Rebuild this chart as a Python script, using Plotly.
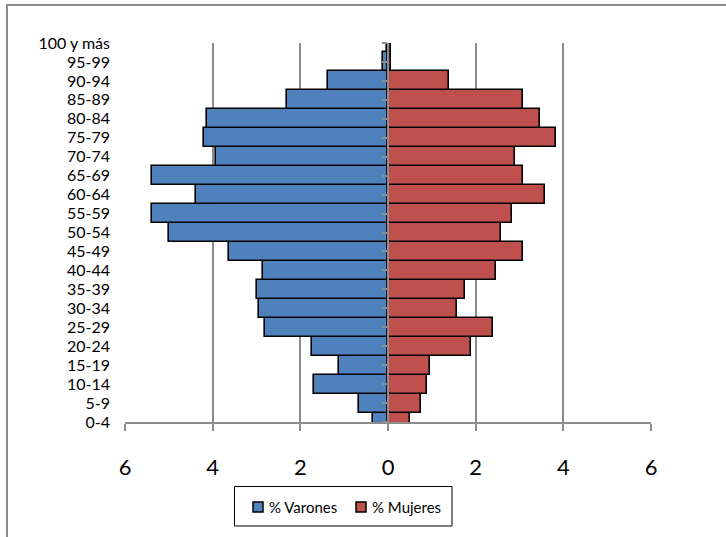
import plotly.graph_objects as go

grupos = ["0-4", "5-9", "10-14", "15-19", "20-24", "25-29", "30-34", "35-39",
          "40-44", "45-49", "50-54", "55-59", "60-64", "65-69", "70-74",
          "75-79", "80-84", "85-89", "90-94", "95-99", "100 y más"]
varones = [0.35, 0.67, 1.68, 1.11, 1.74, 2.81, 2.95, 3.00, 2.86, 3.62, 5.00,
           5.38, 4.38, 5.38, 3.93, 4.19, 4.12, 2.31, 1.36, 0.12, 0.03]
mujeres = [0.51, 0.76, 0.89, 0.95, 1.89, 2.40, 1.58, 1.76, 2.46, 3.09, 2.58,
           2.84, 3.59, 3.09, 2.90, 3.84, 3.47, 3.09, 1.39, 0.07, 0.06]
x_ticks = [-6, -4, -2, 0, 2, 4, 6]
x_labels = ["6", "4", "2", "0", "2", "4", "6"]
series_names = ["% Varones", "% Mujeres"]
series_colors = ["#4F81BD", "#C0504D"]

pos = list(range(len(grupos)))
FONT = "Lato, Carlito, Calibri, sans-serif"
GRAY = "#8C8C8C"

fig = go.Figure()
fig.add_trace(go.Bar(
    y=pos, x=[-v for v in varones], orientation="h", name=series_names[0],
    width=1.0, marker=dict(color=series_colors[0], line=dict(color="black", width=1.6)),
))
fig.add_trace(go.Bar(
    y=pos, x=mujeres, orientation="h", name=series_names[1],
    width=1.0, marker=dict(color=series_colors[1], line=dict(color="black", width=1.6)),
))

W, H = 726, 537
L, R, T, B = 125, 75, 43, 115
pw, ph = W - L - R, H - T - B

def px_x(px):
    return (px - L) / pw

def px_y(py):
    return (H - B - py) / ph

shapes = [
    # outer chart border (left and top visible)
    dict(type="rect", xref="paper", yref="paper",
         x0=px_x(7), x1=px_x(760), y0=px_y(560), y1=px_y(5),
         line=dict(color=GRAY, width=2), fillcolor="rgba(0,0,0,0)", layer="below"),
    # legend box
    dict(type="rect", xref="paper", yref="paper",
         x0=px_x(234.5), x1=px_x(452), y0=px_y(526), y1=px_y(486.5),
         line=dict(color="black", width=1), fillcolor="white"),
]
annotations = []
legend_items = [(253, 267), (356, 369.5)]
for (sx, tx), name, col in zip(legend_items, series_names, series_colors):
    shapes.append(dict(type="rect", xref="paper", yref="paper",
                       x0=px_x(sx), x1=px_x(sx + 10), y0=px_y(512), y1=px_y(502),
                       line=dict(color="black", width=1.5), fillcolor=col))
    annotations.append(dict(xref="paper", yref="paper", x=px_x(tx), y=px_y(507),
                            xanchor="left", yanchor="middle", showarrow=False,
                            text=name, font=dict(size=15, family=FONT, color="black")))

fig.update_layout(
    width=W, height=H,
    margin=dict(l=L, r=R, t=T, b=B, pad=0),
    paper_bgcolor="white", plot_bgcolor="white",
    barmode="overlay", bargap=0,
    font=dict(family=FONT, color="black"),
    showlegend=False,
    xaxis=dict(
        range=[-6, 6], tickvals=x_ticks, ticktext=x_labels,
        showgrid=True, gridcolor=GRAY, gridwidth=2,
        zeroline=False,
        showline=True, linecolor=GRAY, linewidth=2,
        ticks="outside", ticklen=7, tickwidth=2, tickcolor=GRAY,
        tickfont=dict(size=22, family=FONT),
        ticklabelstandoff=18,
        fixedrange=True, automargin=False,
    ),
    yaxis=dict(
        range=[0, 20], tickvals=pos, ticktext=grupos,
        showgrid=False, zeroline=False, showline=False, ticks="",
        tickfont=dict(size=16, family=FONT),
        ticklabelstandoff=14,
        fixedrange=True, automargin=False,
    ),
    yaxis2=dict(
        range=[0, 20], overlaying="y", anchor="free",
        position=px_x(388), side="left",
        tickvals=pos, showticklabels=False,
        showgrid=False, zeroline=False,
        showline=True, linecolor=GRAY, linewidth=2,
        ticks="outside", ticklen=5, tickwidth=2, tickcolor=GRAY,
        fixedrange=True, automargin=False,
    ),
    shapes=shapes,
    annotations=annotations,
)
# invisible trace to activate yaxis2
fig.add_trace(go.Scatter(x=[0], y=[0], yaxis="y2", mode="markers",
                         marker=dict(opacity=0), showlegend=False, hoverinfo="skip"))

fig.write_html("out.html", config={"displayModeBar": False},
               post_script="document.body.style.margin='0';document.body.style.overflow='hidden';")
